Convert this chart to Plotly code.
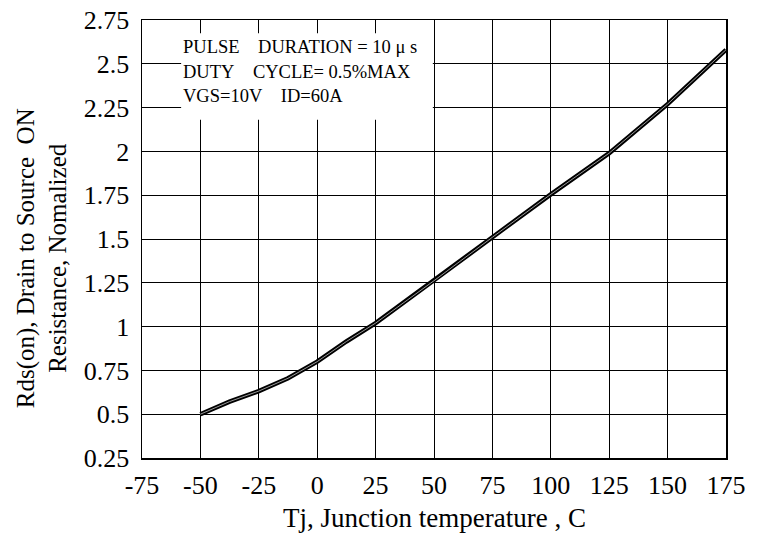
import plotly.graph_objects as go

# Data
tj = [-50, -37.5, -25, -12.5, 0, 12.5, 25, 50, 75, 100, 125, 150, 175]
rds = [0.50, 0.572, 0.632, 0.705, 0.80, 0.915, 1.02, 1.262, 1.51, 1.755, 1.99, 2.27, 2.58]

x_ticks = [-75, -50, -25, 0, 25, 50, 75, 100, 125, 150, 175]
x_tick_text = ["-75", "-50", "-25", "0", "25", "50", "75", "100", "125", "150", "175"]
y_ticks = [0.25, 0.5, 0.75, 1, 1.25, 1.5, 1.75, 2, 2.25, 2.5, 2.75]
y_tick_text = ["0.25", "0.5", "0.75", "1", "1.25", "1.5", "1.75", "2", "2.25", "2.5", "2.75"]

note_lines = [
    "PULSE\u00a0\u00a0\u00a0\u00a0DURATION = 10 \u03bc s",
    "DUTY\u00a0\u00a0\u00a0\u00a0CYCLE= 0.5%MAX",
    "VGS=10V\u00a0\u00a0\u00a0\u00a0ID=60A",
]
x_title = "Tj, Junction temperature , C"
y_title = "Rds(on), Drain to Source\u00a0\u00a0ON<br>Resistance, Nomalized"

FONT = "Liberation Serif, Times New Roman, serif"

fig = go.Figure()
fig.add_trace(go.Scatter(x=tj, y=rds, mode="lines",
                         line=dict(color="black", width=4.5), hoverinfo="skip"))
fig.add_trace(go.Scatter(x=tj, y=rds, mode="lines",
                         line=dict(color="#9a9a9a", width=1), hoverinfo="skip"))

# white box behind the notes
fig.add_shape(type="rect", xref="paper", yref="paper",
              x0=0.067, x1=0.498, y0=0.772, y1=0.970,
              fillcolor="white", line=dict(width=0), layer="above")

for i, t in enumerate(note_lines):
    fig.add_annotation(xref="paper", yref="paper", x=0.066, y=0.938 - i * 0.056,
                       text=t, showarrow=False, xanchor="left", yanchor="middle",
                       font=dict(family=FONT, size=18.5, color="black"))

# axis titles
fig.add_annotation(xref="paper", yref="paper", x=0.5, y=-0.137,
                   text=x_title, showarrow=False, xanchor="center", yanchor="middle",
                   font=dict(family=FONT, size=27, color="black"))
fig.add_annotation(xref="paper", yref="paper", x=-0.172, y=0.455, textangle=-90,
                   text=y_title, showarrow=False, xanchor="center", yanchor="middle",
                   font=dict(family=FONT, size=25, color="black"))

fig.update_layout(
    width=768, height=534,
    margin=dict(l=142, r=42, t=20, b=76, autoexpand=False),
    paper_bgcolor="white", plot_bgcolor="white",
    showlegend=False,
    font=dict(family=FONT, color="black"),
)
fig.update_xaxes(range=[-75, 175], tickvals=x_ticks, ticktext=x_tick_text, ticks="",
                 showgrid=True, gridcolor="black", gridwidth=1,
                 showline=True, linecolor="black", linewidth=1.5, mirror=True,
                 zeroline=False, tickfont=dict(size=26, family=FONT),
                 ticklabelstandoff=3, ticklabeloverflow="allow", automargin=False)
fig.update_yaxes(range=[0.25, 2.75], tickvals=y_ticks, ticktext=y_tick_text, ticks="",
                 showgrid=True, gridcolor="black", gridwidth=1,
                 showline=True, linecolor="black", linewidth=1.5, mirror=True,
                 zeroline=False, tickfont=dict(size=26, family=FONT),
                 ticklabelstandoff=6, ticklabeloverflow="allow", automargin=False)

fig.write_html("out.html",
               config={"displayModeBar": False, "staticPlot": True},
               post_script="document.body.style.margin='0';document.body.style.overflow='hidden';")
